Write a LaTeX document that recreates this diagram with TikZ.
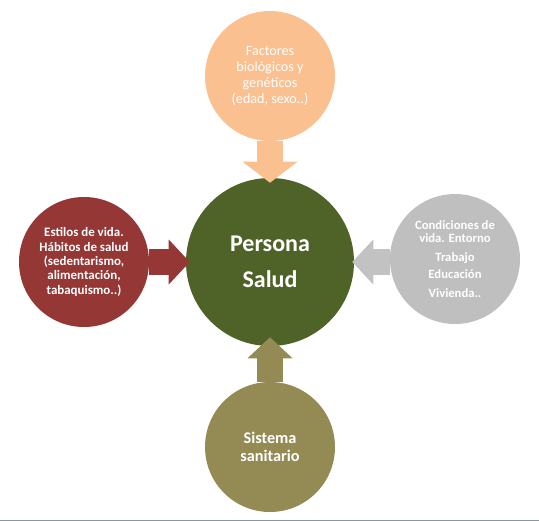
\documentclass[tikz,border=0pt]{standalone}
\usepackage{fontspec}
\setmainfont{Carlito}
\usetikzlibrary{arrows.meta}
\definecolor{peach}{HTML}{FAC090}
\definecolor{moss}{HTML}{4F6228}
\definecolor{brick}{HTML}{953735}
\definecolor{ash}{HTML}{BFBFBF}
\definecolor{khaki}{HTML}{948A54}
\definecolor{rule}{HTML}{8C969C}
\tikzset{
  bubble/.style={circle, draw=none, text=white, align=center, inner sep=0pt, minimum size=97.5pt},
  push/.style={line width=19.5pt, -{Triangle[length=15.75pt, width=33.75pt, line width=0pt]}},
}

\begin{document}
\begin{tikzpicture}[x=0.75pt, y=-0.75pt]
        \useasboundingbox (0,0) rectangle (539,521);
        % centre
        \node[bubble, fill=moss, minimum size=126pt, font=\fontsize{18}{27}\selectfont\bfseries] (persona) at (270,262) {Persona\\Salud};
        % top
        \node[bubble, fill=peach, font=\fontsize{10.6}{11.8}\selectfont] (factores) at (270,76) {Factores\\biológicos y\\genéticos\\(edad, sexo..)};
        % left
        \node[bubble, fill=brick, font=\fontsize{9.7}{10.7}\selectfont\bfseries] (estilos) at (84,262) {Estilos de vida.\\Hábitos de salud\\(sedentarismo,\\alimentación,\\tabaquismo..)};
        % right
        \node[bubble, fill=ash, font=\fontsize{9.5}{9.75}\selectfont\bfseries] (condiciones) at (455,259) {Condiciones de\\vida. Entorno\\[4.5pt]Trabajo\\[3.5pt]Educación\\[4.5pt]Vivienda..};
        % bottom
        \node[bubble, fill=khaki, font=\fontsize{12.2}{13.3}\selectfont\bfseries] (sistema) at (270,447) {Sistema\\sanitario};
        % arrows
        \draw[push, peach, shorten >=-3.75pt, -{Triangle[length=15.75pt, width=41.25pt, line width=0pt]}] (factores.south) -- (persona.north);
        \draw[push, brick, shorten >=-3pt] (estilos.east) -- (persona.west);
        \draw[push, ash!95!white, shorten >=-1.5pt] (condiciones.west |- persona.east) -- (persona.east);
        \draw[push, khaki, shorten >=-6.75pt] (sistema.north) -- (persona.south);
        % frame
        \draw[rule, line width=0.75pt] (0,520) -- (539,520);
    \end{tikzpicture}
\end{document}
